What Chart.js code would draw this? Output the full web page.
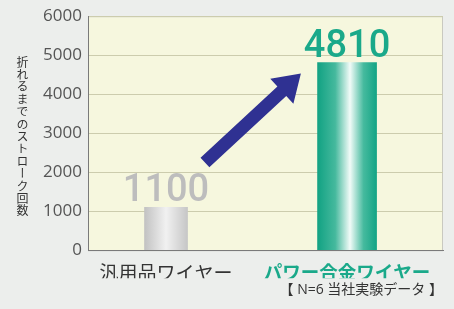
<!DOCTYPE html>
<html>
<head>
<meta charset="utf-8">
<script src="https://cdn.jsdelivr.net/npm/chart.js@4"></script>
<style>
  html,body{margin:0;padding:0;background:#eceeec;}
  #wrap{position:relative;width:454px;height:309px;}
  #yTitle{
    position:absolute;left:14px;top:56px;
    writing-mode:vertical-rl;
    font-family:"Noto Sans CJK JP",sans-serif;
    font-size:12px;letter-spacing:0.4px;color:#333;
  }
</style>
</head>
<body>
<div id="wrap">
  <canvas id="chart"></canvas>
  <div id="yTitle">折れるまでのストローク回数</div>
</div>
<script>
// データ
const CATEGORIES = ['汎用品ワイヤー', 'パワー合金ワイヤー'];
const VALUES = [1100, 4810];
const Y_TICKS = [0, 1000, 2000, 3000, 4000, 5000, 6000];
const NOTE = '【 N=6 当社実験データ 】';
// 矢印 (データ座標)
const ARROW_FROM = {x:0.215, y:2250};
const ARROW_TO = {x:0.745, y:4530};

const COLORS = {
  plotBg:'#f6f7de',
  grid:'#ccccad',
  axis:'#7a7a7a',
  tick:'#555',
  green:'#1aa98a',
  grayLabel:'#bdbdbd',
  arrow:'#2f3192'
};
const BAR_W = [43, 59];
const FONT = '"Open Sans", "Noto Sans CJK JP", sans-serif';

function barGradient(ctx, x0, x1, i){
  const g = ctx.createLinearGradient(x0, 0, x1, 0);
  if(i === 0){
    g.addColorStop(0, '#c2c2c2');
    g.addColorStop(0.5, '#f1f1f1');
    g.addColorStop(1, '#c6c6c6');
  } else {
    g.addColorStop(0, '#12a283');
    g.addColorStop(0.3, '#45b99d');
    g.addColorStop(0.55, '#f2fbf8');
    g.addColorStop(0.78, '#45ba9e');
    g.addColorStop(1, '#14a485');
  }
  return g;
}

const plotBox = {
  id:'plotBox',
  beforeDraw(chart){
    const {ctx, chartArea:a} = chart;
    ctx.save();
    ctx.fillStyle = COLORS.plotBg;
    ctx.fillRect(a.left, a.top, a.width, a.height);
    ctx.strokeStyle = '#c9c9c0';
    ctx.lineWidth = 1;
    ctx.strokeRect(a.left + 0.5, a.top + 0.5, a.width - 1, a.height);
    ctx.restore();
  },
  beforeDatasetsDraw(chart){
    chart.data.datasets.forEach((ds, i)=>{
      chart.getDatasetMeta(i).data.forEach(el=>{
        if(!el || el.y == null) return;
        el.options.backgroundColor = barGradient(chart.ctx, el.x - el.width/2, el.x + el.width/2, i);
      });
    });
  },
  afterDatasetsDraw(chart){
    const {ctx, scales:{x, y}} = chart;
    ctx.save();
    // 値ラベル
    chart.data.datasets.forEach((ds, i)=>{
      const el = chart.getDatasetMeta(i).data[0];
      ctx.font = '500 38px Roboto, sans-serif';
      ctx.textAlign = 'center';
      ctx.textBaseline = 'alphabetic';
      ctx.fillStyle = i === 0 ? COLORS.grayLabel : COLORS.green;
      ctx.fillText(String(VALUES[i]), el.x, el.y - 6);
    });
    // 矢印
    const x0 = x.getPixelForValue(ARROW_FROM.x), y0 = y.getPixelForValue(ARROW_FROM.y);
    const x1 = x.getPixelForValue(ARROW_TO.x), y1 = y.getPixelForValue(ARROW_TO.y);
    const ang = Math.atan2(y1 - y0, x1 - x0);
    const len = Math.hypot(x1 - x0, y1 - y0);
    const head = 26, hw = 17, sw = 6.5;
    ctx.translate(x0, y0);
    ctx.rotate(ang);
    ctx.beginPath();
    ctx.moveTo(0, -sw);
    ctx.lineTo(len - head, -sw);
    ctx.lineTo(len - head, -hw);
    ctx.lineTo(len, 0);
    ctx.lineTo(len - head, hw);
    ctx.lineTo(len - head, sw);
    ctx.lineTo(0, sw);
    ctx.closePath();
    ctx.fillStyle = COLORS.arrow;
    ctx.fill();
    ctx.restore();
  }
};

new Chart(document.getElementById('chart'), {
  type:'bar',
  data:{
    datasets:VALUES.map((v, i)=>({
      label:CATEGORIES[i],
      data:[{x:i, y:v}],
      barThickness:BAR_W[i],
      backgroundColor:'#ccc',
      borderWidth:0
    }))
  },
  options:{
    responsive:true,
    maintainAspectRatio:false,
    animation:false,
    layout:{padding:{top:12, right:11, left:0, bottom:0}},
    datasets:{bar:{grouped:false}},
    plugins:{
      legend:{display:false},
      tooltip:{enabled:false},
      title:{
        display:true,
        position:'bottom',
        align:'end',
        text:NOTE,
        color:'#333',
        font:{family:FONT, size:14, weight:'normal'},
        padding:{top:3, bottom:11}
      }
    },
    scales:{
      x:{
        type:'linear',
        offset:false,
        min:-0.431,
        max:1.53,
        afterBuildTicks:(s)=>{ s.ticks = CATEGORIES.map((c, i)=>({value:i})); },
        afterFit:(s)=>{ s.height = 28; },
        ticks:{
          autoSkip:false,
          maxRotation:0,
          padding:3,
          callback:(v)=>CATEGORIES[v] ?? '',
          color:(c)=>c.index === 1 ? COLORS.green : '#333',
          font:(c)=>({family:'"Noto Sans CJK JP", sans-serif', size:c.index === 1 ? 18.5 : 19, weight:c.index === 1 ? 'bold' : 'normal'})
        },
        grid:{display:false, offset:false},
        border:{color:COLORS.axis, width:1}
      },
      y:{
        min:0,
        max:6000,
        afterBuildTicks:(s)=>{ s.ticks = Y_TICKS.map(v=>({value:v})); },
        afterFit:(s)=>{ s.width = 88; },
        ticks:{
          color:COLORS.tick,
          padding:6,
          callback:(v)=>String(v),
          font:{family:FONT, size:17}
        },
        grid:{color:COLORS.grid, drawTicks:false},
        border:{color:COLORS.axis, width:1}
      }
    }
  },
  plugins:[plotBox]
});
</script>
</body>
</html>
